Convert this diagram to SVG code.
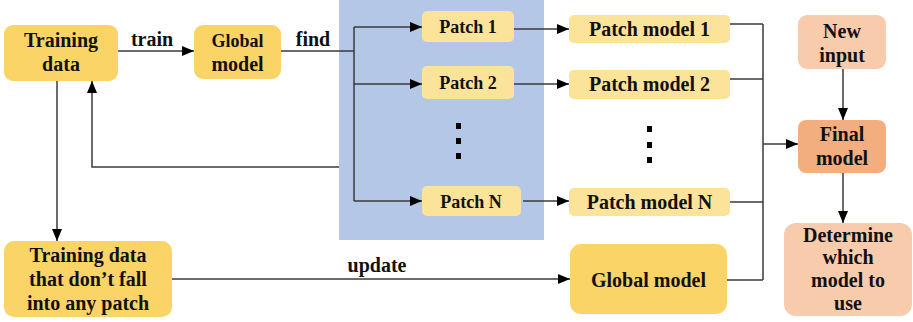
<svg xmlns="http://www.w3.org/2000/svg" width="913" height="322" viewBox="0 0 913 322">
<defs>
<marker id="ah" markerUnits="userSpaceOnUse" markerWidth="12" markerHeight="12" viewBox="0 0 12 12" refX="12" refY="6" orient="auto">
<path d="M0,1 L12,6 L0,11 Z" fill="#000"/>
</marker>
<style>
.gold{fill:#FAD466;}
.lt{fill:#FCE39A;}
.peach{fill:#F8CBAD;}
.orange{fill:#F3AE7F;}
.t{font-family:"Liberation Serif","Times New Roman",serif;font-weight:bold;font-size:20px;fill:#111;text-anchor:middle;}
.s{font-size:18px;}
.c{fill:none;stroke:#3a3a3a;stroke-width:1.5;}
.a{marker-end:url(#ah);}
</style>
</defs>
<rect x="339" y="0" width="205" height="240" fill="#B4C7E7"/>
<g id="connectors">
<path class="c a" d="M118,51 H194"/>
<path class="c" d="M281,51 H354 M354,27 V201"/>
<path class="c a" d="M354,27 H422"/>
<path class="c a" d="M354,84 H422"/>
<path class="c a" d="M354,201 H422"/>
<path class="c a" d="M339,167 H92 V81"/>
<path class="c a" d="M514,29 H569"/>
<path class="c a" d="M514,84 H569"/>
<path class="c a" d="M523,201 H569"/>
<path class="c a" d="M57,81 V241"/>
<path class="c a" d="M172,279 H570"/>
<path class="c" d="M730,24 H763 M730,79 H763 M730,202 H763 M727,280 H763 M763,24 V280"/>
<path class="c a" d="M763,144 H798"/>
<path class="c a" d="M843,69 V120"/>
<path class="c a" d="M843,173 V223"/>
</g>
<text class="t" x="152" y="46">train</text>
<text class="t" x="313" y="46">find</text>
<text class="t" x="377" y="272">update</text>
<g id="training-data"><rect class="gold" x="4" y="25" width="114" height="56" rx="9"/><text class="t" x="61" y="47">Training</text><text class="t" x="61" y="71">data</text></g>
<g id="global-model-top"><rect class="gold" x="194" y="25" width="87" height="54" rx="9"/><text class="t" x="237.5" y="47" style="font-size:18px">Global</text><text class="t" x="237.5" y="71">model</text></g>
<g id="patch-1"><rect class="lt" x="422" y="11" width="92" height="31" rx="5"/><text class="t s" x="468" y="33">Patch 1</text></g>
<g id="patch-2"><rect class="lt" x="422" y="66" width="92" height="33" rx="5"/><text class="t s" x="468" y="89">Patch 2</text></g>
<g id="patch-dots"><rect x="456" y="123" width="5" height="6"/><rect x="456" y="138" width="5" height="6"/><rect x="456" y="153" width="5" height="6"/></g>
<g id="patch-n"><rect class="lt" x="422" y="186" width="99" height="30" rx="5"/><text class="t s" x="471" y="208">Patch N</text></g>
<g id="patch-model-1"><rect class="lt" x="569" y="15" width="161" height="28" rx="5"/><text class="t" x="649.5" y="36">Patch model 1</text></g>
<g id="patch-model-2"><rect class="lt" x="569" y="70" width="161" height="29" rx="5"/><text class="t" x="649.5" y="91">Patch model 2</text></g>
<g id="model-dots"><rect x="647" y="126" width="5" height="6"/><rect x="647" y="142" width="5" height="6"/><rect x="647" y="157" width="5" height="6"/></g>
<g id="patch-model-n"><rect class="lt" x="569" y="188" width="161" height="28" rx="5"/><text class="t" x="649.5" y="209">Patch model N</text></g>
<g id="training-data-rest"><rect class="gold" x="4" y="241" width="168" height="76" rx="10"/><text class="t" x="88" y="262">Training data</text><text class="t" x="88" y="286">that don’t fall</text><text class="t" x="88" y="310">into any patch</text></g>
<g id="global-model-bottom"><rect class="gold" x="570" y="244" width="157" height="70" rx="11"/><text class="t" x="648.5" y="287">Global model</text></g>
<g id="new-input"><rect class="peach" x="798" y="15" width="88" height="54" rx="9"/><text class="t" x="842" y="38">New</text><text class="t" x="842" y="62">input</text></g>
<g id="final-model"><rect class="orange" x="798" y="120" width="88" height="53" rx="8"/><text class="t" x="842" y="141">Final</text><text class="t" x="842" y="165">model</text></g>
<g id="determine"><rect class="peach" x="784" y="223" width="128" height="93" rx="12"/><text class="t" x="848" y="242">Determine</text><text class="t" x="848" y="264">which</text><text class="t" x="848" y="287">model to</text><text class="t" x="848" y="310">use</text></g>
</svg>
